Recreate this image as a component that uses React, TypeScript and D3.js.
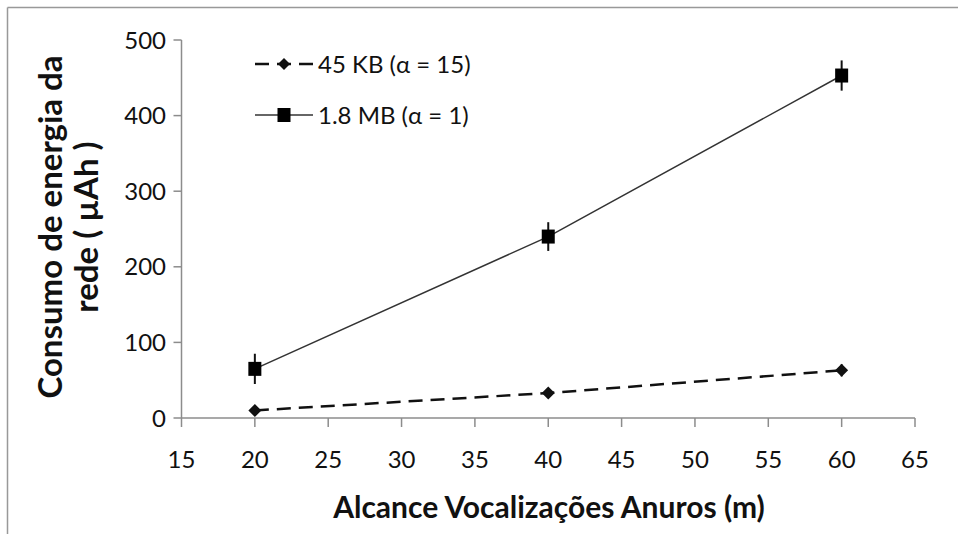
import React from "react";
import * as d3 from "d3";

const xValues = [20, 40, 60];
const seriesNames = ["45 KB (α = 15)", "1.8 MB (α = 1)"];
const kbValues = [10, 33, 63];
const kbErrors = [6, 6, 8];
const mbValues = [65, 240, 453];
const mbErrors = [20, 19, 20];
const xTicks = [15, 20, 25, 30, 35, 40, 45, 50, 55, 60, 65];
const yTicks = [0, 100, 200, 300, 400, 500];

const FONT = "Lato, 'Open Sans', sans-serif";

export default function App() {
  const W = 958, H = 534;
  const x = d3.scaleLinear().domain([15, 65]).range([181.5, 915]);
  const y = d3.scaleLinear().domain([0, 500]).range([418, 40]);
  const line = d3.line<number>().x((_, i) => x(xValues[i])).y((v) => y(v));
  const kbPts = kbValues.map((v, i) => ({ x: x(xValues[i]), y: y(v), e: kbErrors[i] }));
  const mbPts = mbValues.map((v, i) => ({ x: x(xValues[i]), y: y(v), e: mbErrors[i] }));
  const axisColor = "#8c8c8c";
  const diamond = (cx: number, cy: number, r = 6.5) => `M${cx},${cy - r}L${cx + r},${cy}L${cx},${cy + r}L${cx - r},${cy}Z`;

  return (
    <svg width={W} height={H} style={{ position: "absolute", left: 0, top: 0, background: "#fff" }}>
      {/* frame */}
      <line x1={7.5} y1={7.5} x2={W} y2={7.5} stroke="#999" strokeWidth={1.5} />
      <line x1={7.5} y1={7.5} x2={7.5} y2={H} stroke="#999" strokeWidth={1.5} />

      {/* y axis */}
      <line x1={x(15)} y1={y(500)} x2={x(15)} y2={y(0)} stroke={axisColor} strokeWidth={1.5} />
      {yTicks.map((t) => (
        <g key={"y" + t}>
          <line x1={x(15) - 8} x2={x(15)} y1={y(t)} y2={y(t)} stroke={axisColor} strokeWidth={1.5} />
          <text x={166} y={y(t)} dy="0.36em" textAnchor="end" fontFamily={FONT} fontSize={24} fill="#111">
            {t}
          </text>
        </g>
      ))}

      {/* x axis */}
      <line x1={x(15)} y1={y(0)} x2={x(65)} y2={y(0)} stroke={axisColor} strokeWidth={1.5} />
      {xTicks.map((t) => (
        <g key={"x" + t}>
          <line x1={x(t)} x2={x(t)} y1={y(0)} y2={y(0) + 9} stroke={axisColor} strokeWidth={1.5} />
          <text x={x(t)} y={459} dy="0.36em" textAnchor="middle" fontFamily={FONT} fontSize={24} fill="#111">
            {t}
          </text>
        </g>
      ))}

      {/* axis titles */}
      <text x={549} y={507} dy="0.36em" textAnchor="middle" fontFamily={FONT} fontWeight="bold" fontSize={30} fill="#111">
        Alcance Vocalizações Anuros (m)
      </text>
      <g transform="translate(50,227) rotate(-90)">
        <text x={0} y={0} dy="0.36em" textAnchor="middle" fontFamily={FONT} fontWeight="bold" fontSize={33} fill="#111">
          Consumo de energia da
        </text>
        <text x={0} y={36} dy="0.36em" textAnchor="middle" fontFamily={FONT} fontWeight="bold" fontSize={33} fill="#111">
          rede ( µAh )
        </text>
      </g>

      {/* 1.8 MB series */}
      <path d={line(mbValues) || ""} fill="none" stroke="#333" strokeWidth={1.5} />
      {mbPts.map((p, i) => (
        <g key={"mb" + i}>
          <line x1={p.x} x2={p.x} y1={y(mbValues[i] + p.e)} y2={y(mbValues[i] - p.e)} stroke="#111" strokeWidth={2} />
          <rect x={p.x - 6.5} y={p.y - 7} width={13} height={14} fill="#000" />
        </g>
      ))}

      {/* 45 KB series */}
      <path d={line(kbValues) || ""} fill="none" stroke="#111" strokeWidth={2.5} strokeDasharray="14,8" />
      {kbPts.map((p, i) => (
        <g key={"kb" + i}>
          <line x1={p.x} x2={p.x} y1={y(kbValues[i] + p.e)} y2={y(kbValues[i] - p.e)} stroke="#111" strokeWidth={2} />
          <path d={diamond(p.x, p.y)} fill="#111" />
        </g>
      ))}

      {/* legend */}
      <g>
        <line x1={255} x2={313} y1={64} y2={64} stroke="#111" strokeWidth={2.5} strokeDasharray="14,8" />
        <path d={diamond(284, 64, 6)} fill="#111" />
        <text x={318} y={64} dy="0.36em" fontFamily={FONT} fontSize={24} fill="#111">
          {seriesNames[0]}
        </text>
        <line x1={255} x2={313} y1={115} y2={115} stroke="#333" strokeWidth={1.5} />
        <rect x={284 - 6.5} y={115 - 7} width={13} height={14} fill="#000" />
        <text x={318} y={115} dy="0.36em" fontFamily={FONT} fontSize={24} fill="#111">
          {seriesNames[1]}
        </text>
      </g>
    </svg>
  );
}
